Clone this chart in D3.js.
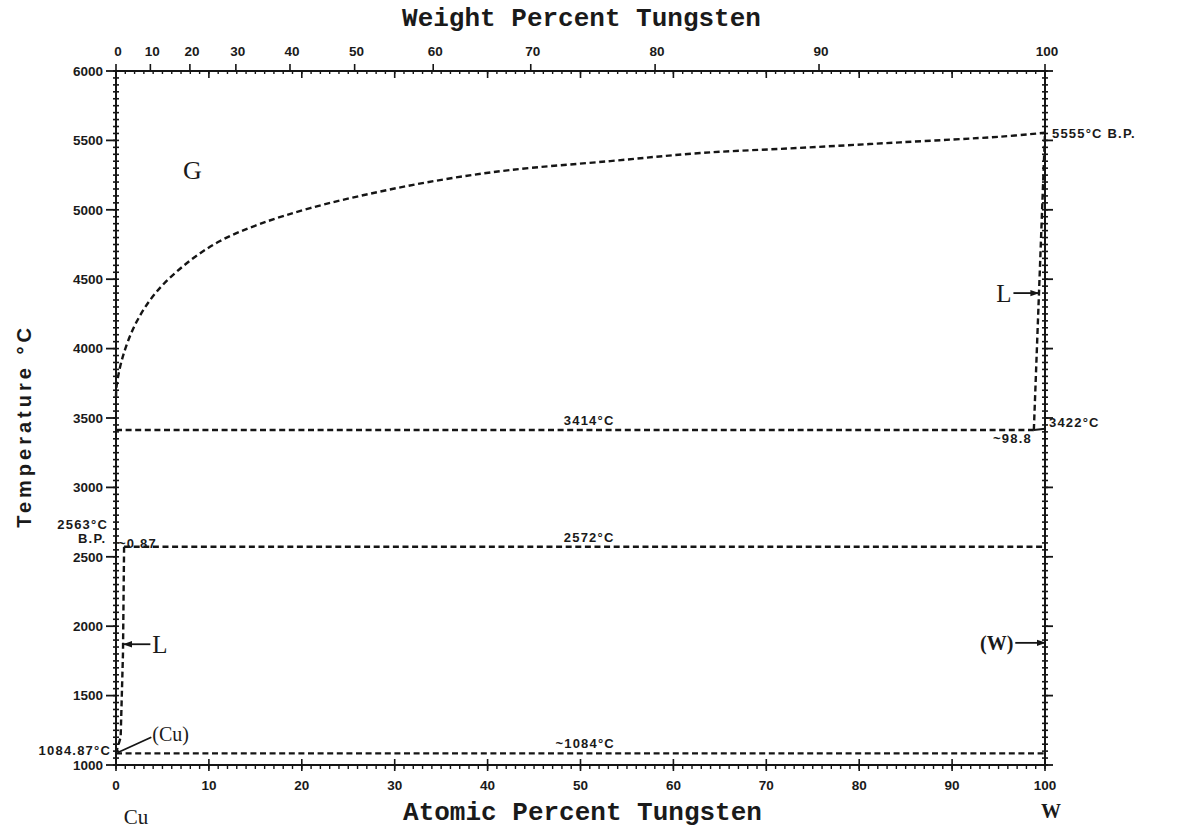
<!DOCTYPE html>
<html>
<head>
<meta charset="utf-8">
<script src="https://cdn.jsdelivr.net/npm/d3@7"></script>
<style>
  body { margin: 0; background: #fff; }
  text { fill: #1a1a1a; }
  .tick-lbl { font-family: 'Liberation Sans', 'DejaVu Sans', sans-serif; font-weight: bold; font-size: 13.5px; }
  .note { font-family: 'Liberation Sans', 'DejaVu Sans', sans-serif; font-weight: bold; font-size: 13px; letter-spacing: 1.2px; }
  .title { font-family: 'Liberation Mono', 'DejaVu Sans Mono', monospace; font-size: 26px; font-weight: bold; }
  .serif { font-family: 'Liberation Serif', 'DejaVu Serif', serif; }
</style>
</head>
<body>
<svg id="chart" width="1177" height="830"></svg>
<script>
// Cu–W binary phase diagram: temperature against atomic percent tungsten,
// with the weight-percent scale along the top.

// ---- data ----
const atomicTicks = [0, 10, 20, 30, 40, 50, 60, 70, 80, 90, 100];
const weightTicks = [0, 10, 20, 30, 40, 50, 60, 70, 80, 90, 100];
const tempTicks = [1000, 1500, 2000, 2500, 3000, 3500, 4000, 4500, 5000, 5500, 6000];
const massCu = 63.546;   // g/mol
const massW = 183.84;    // g/mol

// G / (L+G) boundary
const gasAt = [0, 0.08, 0.79, 2.23, 4.38, 7.61, 11.2, 15.5, 20.9, 28.1, 35.2, 42.4, 53.2, 62.9, 73.6, 84.4, 95.2, 100];
const gasT  = [3650, 3740, 3955, 4195, 4410, 4615, 4775, 4898, 5012, 5127, 5218, 5286, 5351, 5409, 5446, 5486, 5527, 5555];

// liquid boundary on the W side
const liqWAt = [98.8, 100];
const liqWT  = [3414, 5555];

// liquid boundary on the Cu side
const liqCuAt = [0.87, 0.75, 0.5, 0];
const liqCuT  = [2572, 1800, 1200, 1084.87];

// horizontal invariant lines: [temperature, from at.%, to at.%]
const invariantT    = [3414, 2572, 1084];
const invariantFrom = [0, 0.87, 0];
const invariantTo   = [98.8, 100, 100];

// ---- scales ----
const svg = d3.select('#chart');
const x = d3.scaleLinear().domain([0, 100]).range([116, 1045]);
const y = d3.scaleLinear().domain([1000, 6000]).range([765, 71]);
const wtToAt = w => {
  const nW = w / massW, nCu = (100 - w) / massCu;
  return 100 * nW / (nW + nCu);
};

const x0 = x(0), x1 = x(100), yTop = y(6000), yBot = y(1000);
const ink = '#151515';

// ---- frame ----
svg.append('rect')
  .attr('x', x0).attr('y', yTop)
  .attr('width', x1 - x0).attr('height', yBot - yTop)
  .attr('fill', 'none').attr('stroke', ink).attr('stroke-width', 2);

const ticks = svg.append('g').attr('stroke', ink);

// temperature axes (left and right)
const minorT = d3.range(1000, 6001, 50);
minorT.forEach(t => {
  ticks.append('line').attr('x1', x0 - 3).attr('x2', x0 + 3).attr('y1', y(t)).attr('y2', y(t)).attr('stroke-width', 1.6);
  ticks.append('line').attr('x1', x1 - 3).attr('x2', x1 + 3).attr('y1', y(t)).attr('y2', y(t)).attr('stroke-width', 1.6);
});
tempTicks.forEach(t => {
  ticks.append('line').attr('x1', x0 - 10).attr('x2', x0).attr('y1', y(t)).attr('y2', y(t)).attr('stroke-width', 1.8);
  ticks.append('line').attr('x1', x1).attr('x2', x1 + 8).attr('y1', y(t)).attr('y2', y(t)).attr('stroke-width', 1.8);
});
svg.append('g').selectAll('text').data(tempTicks).join('text')
  .attr('class', 'tick-lbl')
  .attr('x', x0 - 13).attr('y', d => y(d)).attr('dy', '0.36em')
  .attr('text-anchor', 'end')
  .text(d => d);

// composition axes (bottom: atomic %, top: weight %)
d3.range(0, 101, 1).forEach(a => {
  ticks.append('line').attr('x1', x(a)).attr('x2', x(a)).attr('y1', yBot).attr('y2', yBot + 4).attr('stroke-width', 1.4);
  ticks.append('line').attr('x1', x(a)).attr('x2', x(a)).attr('y1', yTop).attr('y2', yTop + 3).attr('stroke-width', 1.4);
});
atomicTicks.forEach(a => {
  ticks.append('line').attr('x1', x(a)).attr('x2', x(a)).attr('y1', yBot - 6).attr('y2', yBot + 6).attr('stroke-width', 1.6);
  ticks.append('line').attr('x1', x(a)).attr('x2', x(a)).attr('y1', yTop).attr('y2', yTop + 7).attr('stroke-width', 1.6);
});
weightTicks.forEach(w => {
  ticks.append('line').attr('x1', x(wtToAt(w))).attr('x2', x(wtToAt(w))).attr('y1', yTop - 7).attr('y2', yTop).attr('stroke-width', 1.6);
});
svg.append('g').selectAll('text').data(atomicTicks).join('text')
  .attr('class', 'tick-lbl')
  .attr('x', d => x(d)).attr('y', yBot + 25)
  .attr('text-anchor', 'middle')
  .text(d => d);
svg.append('g').selectAll('text').data(weightTicks).join('text')
  .attr('class', 'tick-lbl')
  .attr('x', d => x(wtToAt(d)) + 2).attr('y', yTop - 15)
  .attr('text-anchor', 'middle')
  .text(d => d);

// ---- phase boundaries ----
const line = d3.line().x(d => x(d[0])).y(d => y(d[1]));
const dashed = sel => sel.attr('fill', 'none').attr('stroke', ink)
  .attr('stroke-width', 2.4).attr('stroke-dasharray', '6,3.6');

svg.append('path').datum(d3.zip(gasAt, gasT))
  .attr('d', line.curve(d3.curveCatmullRom.alpha(0.5))).call(dashed);
line.curve(d3.curveLinear);
svg.append('path').datum(d3.zip(liqWAt, liqWT)).attr('d', line).call(dashed);
svg.append('path').datum(d3.zip(liqCuAt, liqCuT)).attr('d', line).call(dashed);
svg.append('path').datum([[98.8, 3414], [100, 3422]]).attr('d', line)
  .attr('fill', 'none').attr('stroke', ink).attr('stroke-width', 2);
invariantT.forEach((t, i) => {
  svg.append('path').datum([[invariantFrom[i], t], [invariantTo[i], t]])
    .attr('d', line).call(dashed);
});

// ---- arrows and phase labels ----
const defs = svg.append('defs');
defs.append('marker').attr('id', 'head')
  .attr('viewBox', '0 0 10 10').attr('refX', 9).attr('refY', 5)
  .attr('markerWidth', 5).attr('markerHeight', 5).attr('orient', 'auto')
  .append('path').attr('d', 'M0,1.5 L10,5 L0,8.5 Z').attr('fill', ink);

const arrow = (a0, t0, a1, t1) => svg.append('line')
  .attr('x1', x(a0)).attr('y1', y(t0)).attr('x2', x(a1)).attr('y2', y(t1))
  .attr('stroke', ink).attr('stroke-width', 1.8).attr('marker-end', 'url(#head)');

arrow(3.7, 1870, 0.85, 1870);
arrow(96.6, 4400, 99.3, 4400);
arrow(96.8, 1880, 100, 1880);
svg.append('line')
  .attr('x1', x(0.2)).attr('y1', y(1090)).attr('x2', x(3.8)).attr('y2', y(1200))
  .attr('stroke', ink).attr('stroke-width', 1.8);

svg.append('text').attr('class', 'serif').attr('font-size', 26)
  .attr('x', x(7.2)).attr('y', y(5290)).attr('dy', '0.35em').text('G');
svg.append('text').attr('class', 'serif').attr('font-size', 25)
  .attr('x', x(3.9)).attr('y', y(1870)).attr('dy', '0.35em').text('L');
svg.append('text').attr('class', 'serif').attr('font-size', 25)
  .attr('x', x(96.4)).attr('y', y(4400)).attr('dy', '0.35em')
  .attr('text-anchor', 'end').text('L');
svg.append('text').attr('class', 'serif').attr('font-size', 20).attr('font-weight', 'bold')
  .attr('x', x(96.6)).attr('y', y(1880)).attr('dy', '0.35em')
  .attr('text-anchor', 'end').text('(W)');
svg.append('text').attr('class', 'serif').attr('font-size', 20)
  .attr('x', x(3.9)).attr('y', y(1220)).attr('dy', '0.35em').text('(Cu)');

// ---- temperature and composition notes ----
const note = (txt, px, py, anchor = 'start', size = 13) => svg.append('text')
  .attr('class', 'note').attr('x', px).attr('y', py)
  .attr('font-size', size)
  .attr('text-anchor', anchor).text(txt);

note('3414°C', x(48.2), y(3414) - 5);
note('2572°C', x(48.2), y(2572) - 5);
note('~1084°C', x(47.3), y(1084) - 5);
note('5555°C B.P.', x1 + 7, y(5555) + 5);
note('3422°C', x1 + 4, y(3422) - 2);
note('~98.8', x(98.6), y(3414) + 13, 'end', 12);
note('2563°C', x0 - 8, y(2563) - 19, 'end', 12);
note('B.P.', x0 - 38, y(2563) - 5, 'start', 11);
note('~0.87', x0 + 2, y(2572) + 1, 'start', 12);
note('1084.87°C', x0 - 5, y(1084.87) + 2, 'end', 12);

// ---- axis titles and element labels ----
svg.append('text').attr('class', 'title')
  .attr('x', (x0 + x1) / 2 + 1).attr('y', 26).attr('text-anchor', 'middle')
  .text('Weight Percent Tungsten');
svg.append('text').attr('class', 'title')
  .attr('x', (x0 + x1) / 2 + 2).attr('y', 820).attr('text-anchor', 'middle')
  .text('Atomic Percent Tungsten');
svg.append('text')
  .attr('transform', `translate(31, ${(yTop + yBot) / 2 + 8}) rotate(-90)`)
  .attr('text-anchor', 'middle')
  .attr('font-family', "'Liberation Sans', 'DejaVu Sans', sans-serif")
  .attr('font-size', 20).attr('font-weight', 'bold').attr('letter-spacing', 4)
  .text('Temperature °C');
svg.append('text').attr('class', 'serif').attr('font-size', 21)
  .attr('x', x0 + 20).attr('y', 824).attr('text-anchor', 'middle').text('Cu');
svg.append('text').attr('class', 'serif').attr('font-size', 20).attr('font-weight', 'bold')
  .attr('x', x1 + 6).attr('y', 818).attr('text-anchor', 'middle').text('W');
</script>
</body>
</html>
